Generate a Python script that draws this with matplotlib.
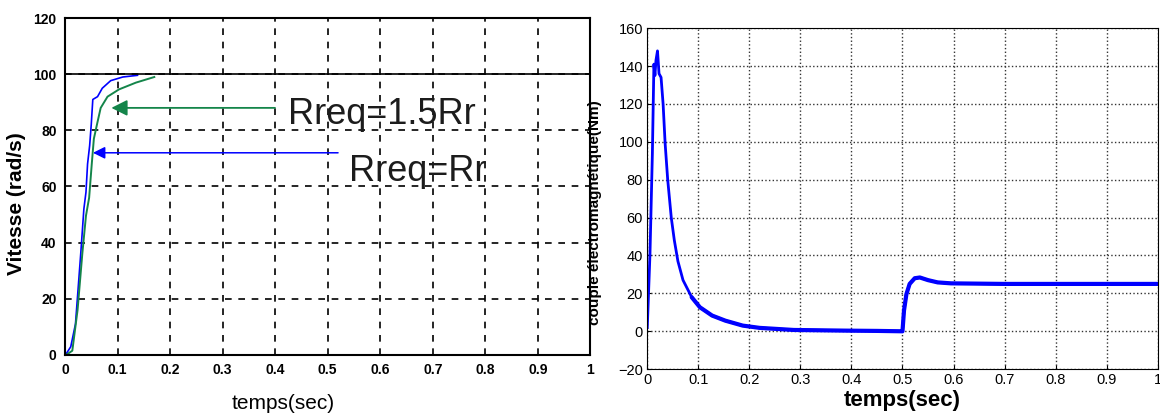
import numpy as np
import matplotlib.pyplot as plt
from matplotlib import font_manager

# ---- Vitesse (panel gauche) ----
t_rr = [0.0, 0.001, 0.011, 0.020, 0.030, 0.036, 0.040, 0.043, 0.047, 0.050,
        0.053, 0.062, 0.071, 0.087, 0.110, 0.138]
w_rr = [0.0, 0.0, 2.9, 11.0, 36.0, 52.0, 58.0, 68.0, 74.6, 82.0,
        91.0, 92.0, 95.0, 97.7, 99.0, 99.6]

t_r15 = [0.0, 0.0025, 0.014, 0.024, 0.033, 0.040, 0.046, 0.051, 0.055, 0.062,
         0.068, 0.081, 0.103, 0.135, 0.170]
w_r15 = [0.0, 0.0, 1.5, 16.0, 36.0, 49.6, 56.0, 68.0, 77.0, 83.0,
         88.0, 92.0, 94.6, 97.0, 99.0]

w_ref = 100

# ---- Couple électromagnétique (panel droit) ----
t_ce = [0.0, 0.0053, 0.010, 0.013, 0.015, 0.017, 0.020, 0.023, 0.027, 0.031,
        0.035, 0.040, 0.047, 0.053, 0.060, 0.070, 0.087, 0.103, 0.127, 0.153,
        0.187, 0.22, 0.287, 0.387, 0.45, 0.499, 0.5, 0.503, 0.5077, 0.514,
        0.524, 0.534, 0.55, 0.569, 0.595, 0.7, 0.8, 0.9, 1.0]
ce = [2.0, 41.0, 94.0, 141.0, 135.0, 143.0, 148.0, 136.0, 134.0, 120.0,
      99.0, 80.0, 60.0, 48.0, 37.0, 27.0, 18.0, 12.7, 8.3, 5.6,
      3.0, 1.8, 0.7, 0.35, 0.2, 0.0, 0.0, 11.0, 19.6, 25.0,
      28.0, 28.4, 27.0, 25.8, 25.3, 25.0, 25.0, 25.0, 25.0]

names = {f.name for f in font_manager.fontManager.ttflist}
narrow = 'Liberation Sans Narrow' if 'Liberation Sans Narrow' in names else 'Liberation Sans'

plt.rcParams['font.family'] = ['Liberation Sans', 'DejaVu Sans']
fig = plt.figure(figsize=(11.6, 4.2), dpi=100, facecolor='white')

xt = np.arange(0, 1.01, 0.1)
xt_lab = ['0', '0.1', '0.2', '0.3', '0.4', '0.5', '0.6', '0.7', '0.8', '0.9', '1']

# ==================== gauche ====================
ax1 = fig.add_axes([0.056, 0.155, 0.453, 0.802])
ax1.plot(t_rr, w_rr, color='#0000ff', lw=1.2)
ax1.plot(t_r15, w_r15, color='#14854a', lw=1.4)
ax1.axhline(w_ref, color='black', lw=1.2)

ax1.set_xlim(0, 1)
ax1.set_ylim(0, 120)
ax1.set_xticks(xt)
ax1.set_xticklabels(xt_lab)
ax1.set_yticks(np.arange(0, 121, 20))
ax1.grid(True, color='black', linestyle=(0, (4, 4)), lw=1.2)
ax1.tick_params(labelsize=10, length=0, pad=6)
for lab in ax1.get_xticklabels() + ax1.get_yticklabels():
    lab.set_fontweight('bold')
for sp in ax1.spines.values():
    sp.set_linewidth(1.5)
ax1.set_xlabel('temps(sec)', fontsize=15, family=narrow)
ax1.xaxis.set_label_coords(0.415, -0.115)
ax1.set_ylabel('Vitesse (rad/s)', fontsize=15, fontweight='bold', family=narrow)
ax1.yaxis.set_label_coords(-0.075, 0.45)

ax1.annotate('', xy=(0.083, 88), xytext=(0.405, 88),
             arrowprops=dict(arrowstyle='-|>', color='#14854a', lw=1.3,
                             mutation_scale=24))
ax1.text(0.425, 85.5, 'Rreq=1.5Rr', fontsize=26, va='center', ha='left',
         color='#1c1c1c')
ax1.annotate('', xy=(0.048, 72), xytext=(0.525, 72),
             arrowprops=dict(arrowstyle='-|>', color='#0000ff', lw=1.1,
                             mutation_scale=18))
ax1.text(0.54, 65.5, 'Rreq=Rr', fontsize=26, va='center', ha='left',
         color='#1c1c1c')

# ==================== droite ====================
ax2 = fig.add_axes([0.558, 0.121, 0.44, 0.812])
t_arr = np.array(t_ce)
ce_arr = np.array(ce)
ax2.plot(t_arr, ce_arr, color='#0000ff', lw=2.0, solid_joinstyle='round')
tail = t_arr >= 0.087
ax2.plot(t_arr[tail], ce_arr[tail], color='#0000ff', lw=3.0,
         solid_joinstyle='round', solid_capstyle='round')
ax2.set_xlim(0, 1)
ax2.set_ylim(-20, 160)
ax2.set_xticks(xt)
ax2.set_xticklabels(xt_lab)
ax2.set_yticks(np.arange(-20, 161, 20))
ax2.grid(True, color='#333333', linestyle=':', lw=1.0)
ax2.tick_params(labelsize=10.5, length=3, direction='in', pad=3)
for lab in ax2.get_xticklabels() + ax2.get_yticklabels():
    lab.set_family(narrow)
ax2.set_xlabel('temps(sec)', fontsize=16, fontweight='bold', family=narrow,
               labelpad=2)
ax2.set_ylabel('couple électromagnétique(Nm)', fontsize=11,
               fontweight='bold')
ax2.yaxis.set_label_coords(-0.088, 0.46)

fig.savefig('out.png', dpi=100, facecolor='white')
